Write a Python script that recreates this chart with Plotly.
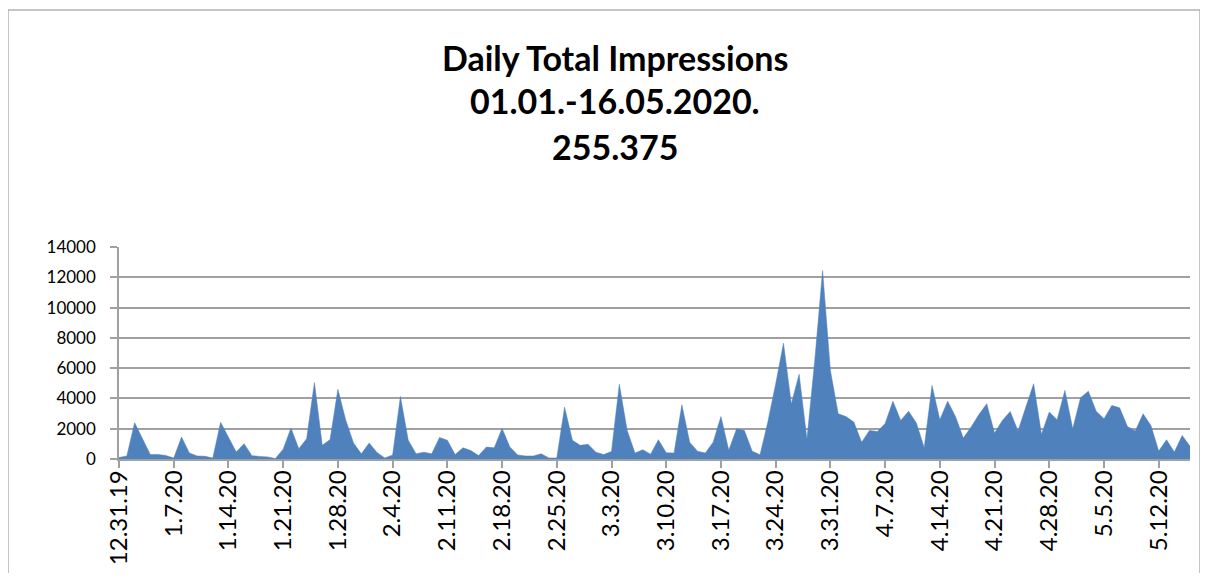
import plotly.graph_objects as go
import pandas as pd

start_date = "2019-12-31"
impressions = [
    100, 200, 2400, 1300, 300, 300, 230, 60, 1450, 400,
    200, 180, 60, 2420, 1450, 460, 1010, 220, 170, 140,
    30, 650, 2050, 680, 1340, 5050, 900, 1280, 4600, 2580,
    1060, 340, 1060, 430, 70, 270, 4130, 1240, 340, 450,
    340, 1420, 1240, 290, 740, 560, 225, 790, 740, 2020,
    790, 270, 200, 200, 340, 70, 70, 3420, 1240, 900,
    970, 450, 290, 500, 4930, 1900, 390, 615, 320, 1270,
    415, 390, 3580, 1110, 520, 390, 1110, 2800, 570, 1990,
    1880, 520, 280, 2450, 4960, 7650, 3630, 5600, 1300, 6500,
    12450, 5850, 2990, 2800, 2440, 1110, 1890, 1810, 2350, 3820,
    2550, 3150, 2380, 750, 4860, 2590, 3820, 2810, 1380, 2110,
    2940, 3650, 1710, 2550, 3130, 1850, 3430, 4970, 1630, 3100,
    2590, 4530, 2000, 4040, 4480, 3160, 2660, 3540, 3380, 2150,
    1850, 2990, 2220, 530, 1270, 460, 1560, 840,
]
dates = pd.date_range(start_date, periods=len(impressions), freq="D")

tick_labels = ["12.31.19", "1.7.20", "1.14.20", "1.21.20", "1.28.20", "2.4.20",
               "2.11.20", "2.18.20", "2.25.20", "3.3.20", "3.10.20", "3.17.20",
               "3.24.20", "3.31.20", "4.7.20", "4.14.20", "4.21.20", "4.28.20",
               "5.5.20", "5.12.20"]
tick_dates = pd.date_range(start_date, periods=len(tick_labels), freq="7D")

y_ticks = [0, 2000, 4000, 6000, 8000, 10000, 12000, 14000]
y_tick_labels = [str(v) for v in y_ticks]
title_lines = ["Daily Total Impressions", "01.01.-16.05.2020.", "255.375"]

fig = go.Figure()
fig.add_trace(go.Scatter(
    x=dates, y=impressions, mode="lines", fill="tozeroy",
    line=dict(color="#4F81BD", width=0.5), fillcolor="#4F81BD",
    hoverinfo="x+y",
))

grid_col = "#A0A0A0"
font_fam = "Lato, 'Open Sans', sans-serif"

# page body has an 8px margin: figure coords = page coords - 8
OFF = 8
L, R_, T, B = 119 - OFF, 1190 - OFF, 247 - OFF, 459 - OFF
W, H = 1192, 565
PW, PH = R_ - L, B - T

fig.update_layout(
    width=W, height=H,
    margin=dict(l=L, r=W - R_, t=T, b=H - B, autoexpand=False),
    paper_bgcolor="white", plot_bgcolor="white",
    showlegend=False,
    font=dict(family=font_fam, size=17, color="#000000"),
    xaxis=dict(
        type="date",
        range=[dates[0], dates[-1]],
        tickvals=list(tick_dates), ticktext=tick_labels,
        tickangle=-90,
        ticks="outside", ticklen=7, tickcolor=grid_col, tickwidth=1.5,
        ticklabelstandoff=-7,
        showgrid=False, zeroline=False,
        showline=True, linecolor=grid_col, linewidth=1.5,
        tickfont=dict(size=24),
        automargin=False,
    ),
    yaxis=dict(
        range=[0, 14000],
        tickvals=y_ticks, ticktext=y_tick_labels,
        ticks="outside", ticklen=7, tickcolor=grid_col, tickwidth=1.5,
        ticklabelstandoff=11,
        showgrid=True, gridcolor=grid_col, gridwidth=1.5,
        zeroline=False,
        showline=True, linecolor=grid_col, linewidth=1.5,
        tickfont=dict(size=17),
        automargin=False,
    ),
)

def px_x(px):
    return (px - OFF - L) / PW

def px_y(py):
    return (B - (py - OFF)) / PH

# chart-area border
fig.add_shape(type="rect", xref="paper", yref="paper",
              x0=px_x(8), x1=px_x(1200), y0=px_y(600), y1=px_y(10),
              line=dict(color="#8C8C8C", width=1), fillcolor="rgba(0,0,0,0)",
              layer="below")

title_y = [57, 100, 146]
for text, py in zip(title_lines, title_y):
    fig.add_annotation(
        text=f"<b>{text}</b>", xref="paper", yref="paper",
        x=px_x(615), y=px_y(py),
        xanchor="center", yanchor="middle", showarrow=False,
        font=dict(family=font_fam, size=34, color="#000000"),
    )

fig.write_html("out.html")
